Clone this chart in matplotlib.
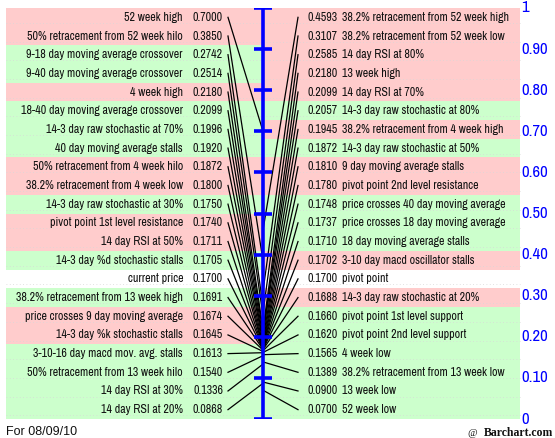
import matplotlib
matplotlib.use("Agg")
import matplotlib.pyplot as plt
from matplotlib.patches import Rectangle

# ---------------- data ----------------
left_labels = [
    "52 week high", "50% retracement from 52 week hilo", "9-18 day moving average crossover",
    "9-40 day moving average crossover", "4 week high", "18-40 day moving average crossover",
    "14-3 day raw stochastic at 70%", "40 day moving average stalls", "50% retracement from 4 week hilo",
    "38.2% retracement from 4 week low", "14-3 day raw stochastic at 30%", "pivot point 1st level resistance",
    "14 day RSI at 50%", "14-3 day %d stochastic stalls", "current price",
    "38.2% retracement from 13 week high", "price crosses 9 day moving average", "14-3 day %k stochastic stalls",
    "3-10-16 day macd mov. avg. stalls", "50% retracement from 13 week hilo", "14 day RSI at 30%",
    "14 day RSI at 20%",
]
left_values = [0.7000, 0.3850, 0.2742, 0.2514, 0.2180, 0.2099, 0.1996, 0.1920, 0.1872, 0.1800,
               0.1750, 0.1740, 0.1711, 0.1705, 0.1700, 0.1691, 0.1674, 0.1645, 0.1613, 0.1540,
               0.1336, 0.0868]
left_kind = ["r", "r", "g", "g", "r", "g", "g", "g", "r", "r", "g", "r", "r", "g", "w",
             "g", "r", "r", "g", "g", "g", "g"]

right_labels = [
    "38.2% retracement from 52 week high", "38.2% retracement from 52 week low", "14 day RSI at 80%",
    "13 week high", "14 day RSI at 70%", "14-3 day raw stochastic at 80%",
    "38.2% retracement from 4 week high", "14-3 day raw stochastic at 50%", "9 day moving average stalls",
    "pivot point 2nd level resistance", "price crosses 40 day moving average",
    "price crosses 18 day moving average", "18 day moving average stalls", "3-10 day macd oscillator stalls",
    "pivot point", "14-3 day raw stochastic at 20%", "pivot point 1st level support",
    "pivot point 2nd level support", "4 week low", "38.2% retracement from 13 week low",
    "13 week low", "52 week low",
]
right_values = [0.4593, 0.3107, 0.2585, 0.2180, 0.2099, 0.2057, 0.1945, 0.1872, 0.1810, 0.1780,
                0.1748, 0.1737, 0.1710, 0.1702, 0.1700, 0.1688, 0.1660, 0.1620, 0.1565, 0.1389,
                0.0900, 0.0700]
right_kind = ["r", "r", "r", "r", "r", "g", "r", "g", "r", "r", "g", "g", "g", "r", "w",
              "r", "g", "g", "g", "g", "g", "g"]

scale_ticks = [0, 0.1, 0.2, 0.3, 0.4, 0.5, 0.6, 0.7, 0.8, 0.9, 1.0]
scale_labels = ["0", "0.10", "0.20", "0.30", "0.40", "0.50", "0.60", "0.70", "0.80", "0.90", "1"]
date_text = "For 08/09/10"

# ---------------- styling ----------------
W, H = 555, 438
TOP_PX, BOT_PX = 8, 419
colors = {"r": "#FFCCCC", "g": "#CCFFCC", "w": "#FFFFFF"}
FONT = ["Archivo Narrow", "Liberation Sans", "DejaVu Sans"]
FS = 8.6

fig = plt.figure(figsize=(W / 100, H / 100), dpi=100)
ax = fig.add_axes([0, (H - BOT_PX) / H, 1, (BOT_PX - TOP_PX) / H])
ax.set_xlim(0, W)
ax.set_ylim(0, 1)
ax.axis("off")

n = len(left_labels)
row_h = 1.0 / n
AX_X = 263
L0, R1 = 6, 520

for i in range(n):
    y0 = 1 - (i + 1) * row_h
    yc = 1 - (i + 0.5) * row_h
    ax.add_patch(Rectangle((L0, y0), AX_X - L0, row_h, facecolor=colors[left_kind[i]],
                           edgecolor="none", zorder=0))
    ax.add_patch(Rectangle((AX_X, y0), R1 - AX_X, row_h, facecolor=colors[right_kind[i]],
                           edgecolor="none", zorder=0))
    ax.plot([L0, R1], [yc - row_h * 0.3] * 2, color="#d8d8d8", lw=0.6, ls=(0, (1, 3)), zorder=0.5)
    # left
    ax.text(183, yc, left_labels[i], ha="right", va="center", fontsize=FS, family=FONT, color="#111111")
    ax.text(223, yc, f"{left_values[i]:.4f}", ha="right", va="center", fontsize=FS, family=FONT,
            color="#111111")
    ax.plot([228, AX_X], [yc, left_values[i]], color="black", lw=0.9, zorder=2)
    # right
    ax.text(307, yc, f"{right_values[i]:.4f}", ha="left", va="center", fontsize=FS, family=FONT,
            color="#111111")
    ax.text(342, yc, right_labels[i], ha="left", va="center", fontsize=FS, family=FONT, color="#111111")
    ax.plot([298, AX_X], [yc, right_values[i]], color="black", lw=0.9, zorder=2)

# central scale
ax.plot([AX_X, AX_X], [0, 1], color="#0000FF", lw=2.6, zorder=3, solid_capstyle="butt")
for t, lab in zip(scale_ticks, scale_labels):
    ax.plot([AX_X - 9, AX_X + 9], [t, t], color="#0000FF", lw=2.6, zorder=3, solid_capstyle="butt")
    ax.text(521, t, lab, ha="left", va="center", fontsize=12, family=FONT, color="#0000FF")

fig.text(6 / W, 1 - 432 / H, date_text, ha="left", va="center", fontsize=9,
         family=["Liberation Sans", "DejaVu Sans"], color="#111111")
fig.text(553 / W, 1 - 433 / H, "Barchart.com", ha="right", va="center", fontsize=8.5,
         family=["Liberation Serif", "DejaVu Serif"], weight="bold", color="#111111")
fig.text(477 / W, 1 - 433 / H, "@", ha="right", va="center", fontsize=7.5, style="italic",
         family=["Liberation Serif", "DejaVu Serif"], color="#111111")

fig.savefig("out.png", dpi=100)
